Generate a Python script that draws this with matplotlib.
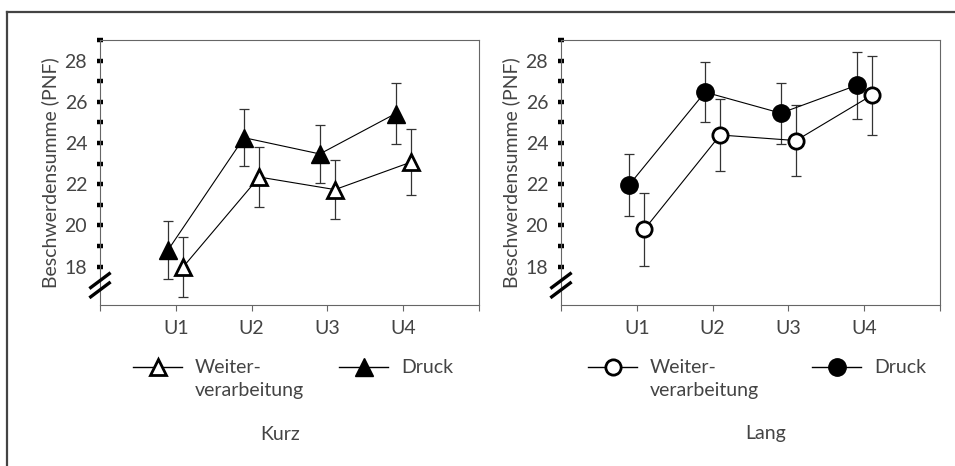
import matplotlib
matplotlib.use("Agg")
import matplotlib.pyplot as plt
from matplotlib.lines import Line2D
from matplotlib.ticker import FixedLocator

plt.rcParams['font.family'] = ['Lato', 'DejaVu Sans']

# Measurement times
times = ["U1", "U2", "U3", "U4"]
x_pos = [1, 2, 3, 4]

# Kurz group: means and error half-widths
kurz_druck = [18.82, 24.26, 23.47, 25.43]
kurz_druck_err = [1.40, 1.37, 1.40, 1.50]
kurz_weiter = [18.00, 22.35, 21.74, 23.07]
kurz_weiter_err = [1.46, 1.45, 1.44, 1.60]

# Lang group: means and error half-widths
lang_druck = [21.97, 26.47, 25.45, 26.80]
lang_druck_err = [1.50, 1.47, 1.48, 1.63]
lang_weiter = [19.81, 24.39, 24.12, 26.32]
lang_weiter_err = [1.77, 1.74, 1.72, 1.92]

y_ticks_major = [18, 20, 22, 24, 26, 28]
y_ticks_minor = list(range(18, 30))

W, H = 955, 466
fig = plt.figure(figsize=(W / 100, H / 100), dpi=100)

TXT = "#444444"
SPINE = "#666666"
FS = 14


def px_ax(left, top, right, bottom):
    return fig.add_axes([left / W, 1 - bottom / H, (right - left) / W, (bottom - top) / H])


def draw_panel(ax, druck, druck_err, weiter, weiter_err, marker):
    off = 0.1
    xd = [x - off for x in x_pos]
    xw = [x + off for x in x_pos]
    ax.errorbar(xd, druck, yerr=druck_err, fmt="none", ecolor="#333333",
                elinewidth=0.9, capsize=3.3, capthick=0.9, zorder=2)
    ax.errorbar(xw, weiter, yerr=weiter_err, fmt="none", ecolor="#333333",
                elinewidth=0.9, capsize=3.3, capthick=0.9, zorder=2)
    ax.plot(xd, druck, color="black", lw=0.8, marker=marker, ms=12.5,
            mfc="black", mec="black", zorder=3)
    ax.plot(xw, weiter, color="black", lw=0.8, marker=marker, ms=11,
            mfc="white", mec="black", mew=2.0, zorder=4)

    ax.set_xlim(0, 5)
    ax.set_ylim(16.14, 29.0)
    ax.xaxis.set_major_locator(FixedLocator([0, 1, 2, 3, 4, 5]))
    ax.set_xticklabels(["", *times, ""])
    ax.yaxis.set_major_locator(FixedLocator(y_ticks_major))
    ax.yaxis.set_minor_locator(FixedLocator([v for v in y_ticks_minor if v not in y_ticks_major]))
    ax.tick_params(axis="x", direction="out", length=4, width=0.8, color=SPINE,
                   labelsize=FS, labelcolor=TXT, pad=7)
    ax.tick_params(axis="y", which="both", direction="inout", length=4.5, width=3.2,
                   color="black", labelsize=FS, labelcolor=TXT, pad=7)
    for s in ax.spines.values():
        s.set_color(SPINE)
        s.set_linewidth(0.8)
    ax.set_ylabel("Beschwerdensumme (PNF)", fontsize=FS, color=TXT, labelpad=4)

    # axis break marks on the y axis
    for yc in (0.092, 0.057):
        ax.plot([-0.028, 0.028], [yc - 0.03, yc + 0.03], transform=ax.transAxes,
                color="black", lw=2.4, clip_on=False, solid_capstyle="butt", zorder=5)


ax1 = px_ax(100, 40, 479, 305)
draw_panel(ax1, kurz_druck, kurz_druck_err, kurz_weiter, kurz_weiter_err, "^")
ax2 = px_ax(561, 40, 940, 305)
draw_panel(ax2, lang_druck, lang_druck_err, lang_weiter, lang_weiter_err, "o")


def legend_item(x0, y, marker, filled, label):
    line = Line2D([x0 / W, (x0 + 49) / W], [1 - y / H, 1 - y / H], color="black", lw=1.0,
                  transform=fig.transFigure)
    fig.add_artist(line)
    mk = Line2D([(x0 + 24.5) / W], [1 - y / H], marker=marker, ms=11 if not filled else 12.5,
                mfc="black" if filled else "white", mec="black", mew=2.0 if not filled else 1,
                linestyle="none", transform=fig.transFigure)
    fig.add_artist(mk)
    fig.text((x0 + 62) / W, 1 - (y - 8) / H, label, fontsize=FS, color=TXT,
             ha="left", va="top", linespacing=1.45)


legend_item(133, 367, "^", False, "Weiter-\nverarbeitung")
legend_item(339, 367, "^", True, "Druck")
legend_item(588, 367, "o", False, "Weiter-\nverarbeitung")
legend_item(812, 367, "o", True, "Druck")

fig.text(280 / W, 1 - 434 / H, "Kurz", fontsize=FS, color=TXT, ha="center", va="center")
fig.text(766 / W, 1 - 434 / H, "Lang", fontsize=FS, color=TXT, ha="center", va="center")

# outer frame (top and left edges)
fig.add_artist(Line2D([7 / W, 1.0], [1 - 12 / H, 1 - 12 / H], color="#444444", lw=1.6,
                      transform=fig.transFigure))
fig.add_artist(Line2D([7 / W, 7 / W], [1 - 12 / H, 0.0], color="#444444", lw=1.6,
                      transform=fig.transFigure))

fig.savefig("out.png", dpi=100)
